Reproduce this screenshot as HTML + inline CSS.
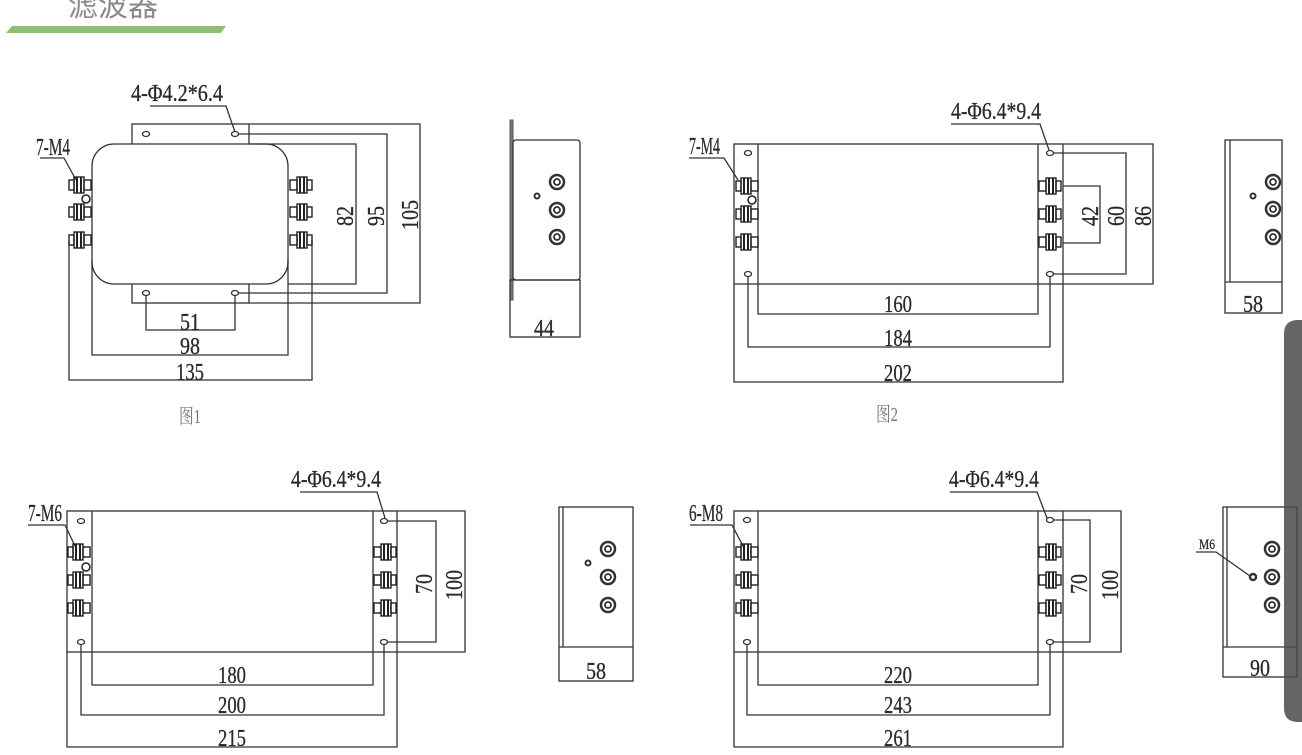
<!DOCTYPE html>
<html><head><meta charset="utf-8"><style>
html,body{margin:0;padding:0;background:#fff;width:1302px;height:755px;overflow:hidden}
svg{display:block}
.t{font-family:"Liberation Serif","Noto Serif CJK SC",serif;fill:#2a2a2a}
</style></head><body>
<svg width="1302" height="755" viewBox="0 0 1302 755" xmlns="http://www.w3.org/2000/svg">
<defs>
<g id="tl" stroke="#222" stroke-width="1.4" fill="none">
<rect x="0" y="-5" width="5" height="10"/>
<rect x="5" y="-8" width="10" height="16"/>
<line x1="8" y1="-8" x2="8" y2="8" stroke-width="2"/>
<line x1="12" y1="-8" x2="12" y2="8" stroke-width="2"/>
<rect x="15" y="-5" width="7" height="10"/>
</g>
<g id="sc"><circle r="7" fill="none" stroke="#333" stroke-width="2.5"/><circle r="3" fill="none" stroke="#333" stroke-width="1.8"/></g>
</defs>
<!-- header -->
<text x="68" y="16" font-size="30" style="fill:#8a8a8a;font-family:'Liberation Sans','Noto Sans CJK SC',sans-serif">滤波器</text>
<polygon points="12,26 226,26 221,33 6,33" fill="#8fbf70"/>

<g stroke="#333" stroke-width="1.3" fill="none">
<!-- FIG 1 -->
<rect x="132" y="124" width="117" height="179"/>
<rect x="92" y="144" width="196" height="140" rx="22" fill="#fff"/>
<ellipse cx="146" cy="134" rx="3.5" ry="2.5"/><ellipse cx="235" cy="134" rx="3.5" ry="2.5"/>
<ellipse cx="146" cy="293" rx="3.5" ry="2.5"/><ellipse cx="235" cy="293" rx="3.5" ry="2.5"/>
<polyline points="249,144 356,144 356,284 288,284"/>
<polyline points="238,134 387,134 387,293 238,293"/>
<polyline points="249,124 420,124 420,303 249,303"/>
<polyline points="146,296 146,330 235,330 235,296"/>
<polyline points="92,260 92,355 288,355 288,260"/>
<polyline points="69,240 69,380 312,380 312,240"/>
<polyline points="150,106 226,106 235,132"/>
<polyline points="40,158 64,158 76,180"/>
<!-- side 1 -->
<rect x="510" y="120" width="3" height="180" fill="#777" stroke="#555" stroke-width="1"/>
<rect x="513" y="140" width="67" height="140" rx="3"/>
<rect x="510" y="280" width="70" height="57"/>
<circle cx="537" cy="196" r="2.5" stroke-width="2"/>

<!-- FIG 2 -->
<rect x="734" y="144" width="329" height="140"/>
<line x1="758" y1="144" x2="758" y2="284"/><line x1="1038" y1="144" x2="1038" y2="284"/>
<ellipse cx="748" cy="153" rx="3.5" ry="2.5"/><ellipse cx="1050" cy="153" rx="3.5" ry="2.5"/>
<ellipse cx="748" cy="274" rx="3.5" ry="2.5"/><ellipse cx="1050" cy="274" rx="3.5" ry="2.5"/>
<polyline points="1063,186 1100,186 1100,243 1063,243"/>
<polyline points="1053,153 1126,153 1126,274 1053,274"/>
<polyline points="1063,144 1153,144 1153,284 1063,284"/>
<polyline points="758,284 758,314 1038,314 1038,284"/>
<polyline points="748,277 748,347 1050,347 1050,277"/>
<polyline points="734,284 734,382 1063,382 1063,284"/>
<polyline points="951,124 1040,124 1049,150"/>
<polyline points="689,158 724,158 738,180"/>
<!-- side 2 -->
<rect x="1225" y="140" width="57" height="173"/>
<line x1="1230" y1="140" x2="1230" y2="282"/><line x1="1225" y1="282" x2="1282" y2="282"/>
<circle cx="1253" cy="196" r="2.5" stroke-width="2"/>

<!-- FIG 3 -->
<rect x="67" y="511" width="330" height="141"/>
<line x1="92" y1="511" x2="92" y2="652"/><line x1="373" y1="511" x2="373" y2="652"/>
<ellipse cx="81" cy="521" rx="3.5" ry="2.5"/><ellipse cx="384" cy="521" rx="3.5" ry="2.5"/>
<ellipse cx="81" cy="642" rx="3.5" ry="2.5"/><ellipse cx="384" cy="642" rx="3.5" ry="2.5"/>
<polyline points="387,521 436,521 436,642 387,642"/>
<polyline points="397,511 465,511 465,652 397,652"/>
<polyline points="92,652 92,685 373,685 373,652"/>
<polyline points="81,645 81,715 384,715 384,645"/>
<polyline points="67,652 67,747 397,747 397,652"/>
<polyline points="300,492 377,492 385,518"/>
<polyline points="28,525 65,525 76,548"/>
<!-- side 3 -->
<rect x="559" y="507" width="74" height="174"/>
<line x1="563" y1="507" x2="563" y2="647"/><line x1="559" y1="647" x2="633" y2="647"/>
<circle cx="588" cy="563" r="2.5" stroke-width="2"/>

<!-- FIG 4 -->
<rect x="734" y="511" width="329" height="141"/>
<line x1="758" y1="511" x2="758" y2="652"/><line x1="1038" y1="511" x2="1038" y2="652"/>
<ellipse cx="747" cy="520" rx="3.5" ry="2.5"/><ellipse cx="1050" cy="520" rx="3.5" ry="2.5"/>
<ellipse cx="747" cy="642" rx="3.5" ry="2.5"/><ellipse cx="1050" cy="642" rx="3.5" ry="2.5"/>
<polyline points="1053,520 1090,520 1090,642 1053,642"/>
<polyline points="1063,511 1121,511 1121,652 1063,652"/>
<polyline points="758,652 758,685 1038,685 1038,652"/>
<polyline points="747,645 747,715 1050,715 1050,645"/>
<polyline points="734,652 734,747 1063,747 1063,652"/>
<polyline points="950,492 1037,492 1047,518"/>
<polyline points="690,525 732,525 744,548"/>
<!-- side 4 -->
<rect x="1223" y="507" width="74" height="170"/>
<line x1="1227" y1="507" x2="1227" y2="647"/><line x1="1223" y1="647" x2="1297" y2="647"/>
<polyline points="1196,552 1216,552 1250,576"/>
<circle cx="1253" cy="577" r="3" stroke-width="2.5"/>
</g>

<!-- terminals -->
<use href="#tl" x="69" y="185"/><use href="#tl" x="69" y="212"/><use href="#tl" x="69" y="240"/>
<circle cx="86" cy="199" r="4" fill="none" stroke="#222" stroke-width="1.5"/>
<g transform="translate(312,0) scale(-1,1)"><use href="#tl" x="0" y="185"/><use href="#tl" x="0" y="212"/><use href="#tl" x="0" y="240"/></g>

<use href="#tl" x="736" y="186"/><use href="#tl" x="736" y="214"/><use href="#tl" x="736" y="242"/>
<circle cx="752" cy="200" r="4" fill="none" stroke="#222" stroke-width="1.5"/>
<g transform="translate(1061,0) scale(-1,1)"><use href="#tl" x="0" y="186"/><use href="#tl" x="0" y="214"/><use href="#tl" x="0" y="242"/></g>

<use href="#tl" x="68" y="552"/><use href="#tl" x="68" y="580"/><use href="#tl" x="68" y="608"/>
<circle cx="86" cy="567" r="4" fill="none" stroke="#222" stroke-width="1.5"/>
<g transform="translate(396,0) scale(-1,1)"><use href="#tl" x="0" y="552"/><use href="#tl" x="0" y="580"/><use href="#tl" x="0" y="608"/></g>

<use href="#tl" x="736" y="552"/><use href="#tl" x="736" y="580"/><use href="#tl" x="736" y="608"/>
<g transform="translate(1061,0) scale(-1,1)"><use href="#tl" x="0" y="552"/><use href="#tl" x="0" y="580"/><use href="#tl" x="0" y="608"/></g>

<!-- side view circles -->
<use href="#sc" x="557" y="182"/><use href="#sc" x="557" y="210"/><use href="#sc" x="557" y="237"/>
<use href="#sc" x="1273" y="182"/><use href="#sc" x="1273" y="209"/><use href="#sc" x="1273" y="237"/>
<use href="#sc" x="608" y="549"/><use href="#sc" x="608" y="577"/><use href="#sc" x="608" y="605"/>
<use href="#sc" x="1272" y="549"/><use href="#sc" x="1272" y="577"/><use href="#sc" x="1272" y="605"/>

<!-- texts -->
<g class="t" font-size="24" stroke="#2a2a2a" stroke-width="0.3">
<text x="131" y="101" textLength="92" lengthAdjust="spacingAndGlyphs">4-Φ4.2*6.4</text>
<text x="36" y="155" textLength="34" lengthAdjust="spacingAndGlyphs">7-M4</text>
<text x="180" y="330" textLength="20" lengthAdjust="spacingAndGlyphs">51</text>
<text x="180" y="354" textLength="20" lengthAdjust="spacingAndGlyphs">98</text>
<text x="176" y="380" textLength="28" lengthAdjust="spacingAndGlyphs">135</text>
<text transform="translate(353,226) rotate(-90)" textLength="20" lengthAdjust="spacingAndGlyphs">82</text>
<text transform="translate(384,226) rotate(-90)" textLength="20" lengthAdjust="spacingAndGlyphs">95</text>
<text transform="translate(418,230) rotate(-90)" textLength="30" lengthAdjust="spacingAndGlyphs">105</text>
<text x="534" y="336" textLength="20" lengthAdjust="spacingAndGlyphs">44</text>

<text x="951" y="119" textLength="90" lengthAdjust="spacingAndGlyphs">4-Φ6.4*9.4</text>
<text x="689" y="154" textLength="31" lengthAdjust="spacingAndGlyphs">7-M4</text>
<text x="884" y="312" textLength="28" lengthAdjust="spacingAndGlyphs">160</text>
<text x="884" y="346" textLength="28" lengthAdjust="spacingAndGlyphs">184</text>
<text x="884" y="381" textLength="28" lengthAdjust="spacingAndGlyphs">202</text>
<text transform="translate(1098,226) rotate(-90)" textLength="20" lengthAdjust="spacingAndGlyphs">42</text>
<text transform="translate(1124,226) rotate(-90)" textLength="20" lengthAdjust="spacingAndGlyphs">60</text>
<text transform="translate(1151,226) rotate(-90)" textLength="20" lengthAdjust="spacingAndGlyphs">86</text>
<text x="1243" y="312" textLength="20" lengthAdjust="spacingAndGlyphs">58</text>

<text x="291" y="487" textLength="90" lengthAdjust="spacingAndGlyphs">4-Φ6.4*9.4</text>
<text x="28" y="521" textLength="34" lengthAdjust="spacingAndGlyphs">7-M6</text>
<text x="218" y="683" textLength="28" lengthAdjust="spacingAndGlyphs">180</text>
<text x="218" y="713" textLength="28" lengthAdjust="spacingAndGlyphs">200</text>
<text x="218" y="746" textLength="28" lengthAdjust="spacingAndGlyphs">215</text>
<text transform="translate(432,594) rotate(-90)" textLength="20" lengthAdjust="spacingAndGlyphs">70</text>
<text transform="translate(462,600) rotate(-90)" textLength="30" lengthAdjust="spacingAndGlyphs">100</text>
<text x="586" y="679" textLength="20" lengthAdjust="spacingAndGlyphs">58</text>

<text x="949" y="487" textLength="90" lengthAdjust="spacingAndGlyphs">4-Φ6.4*9.4</text>
<text x="689" y="521" textLength="34" lengthAdjust="spacingAndGlyphs">6-M8</text>
<text x="884" y="683" textLength="28" lengthAdjust="spacingAndGlyphs">220</text>
<text x="884" y="713" textLength="28" lengthAdjust="spacingAndGlyphs">243</text>
<text x="884" y="746" textLength="28" lengthAdjust="spacingAndGlyphs">261</text>
<text transform="translate(1087,594) rotate(-90)" textLength="20" lengthAdjust="spacingAndGlyphs">70</text>
<text transform="translate(1118,600) rotate(-90)" textLength="30" lengthAdjust="spacingAndGlyphs">100</text>
<text x="1199" y="549" font-size="15" textLength="16" lengthAdjust="spacingAndGlyphs">M6</text>
<text x="1250" y="676" textLength="20" lengthAdjust="spacingAndGlyphs">90</text>
</g>
<g class="t" font-size="20">
<text x="179" y="423" textLength="22" lengthAdjust="spacingAndGlyphs" style="fill:#777">图1</text>
<text x="876" y="421" textLength="22" lengthAdjust="spacingAndGlyphs" style="fill:#777">图2</text>
</g>

<!-- side dark tab -->
<path d="M1302,320 L1298,320 Q1284,320 1284,334 L1284,708 Q1284,722 1298,722 L1302,722 Z" fill="#4a4a4a" fill-opacity="0.85"/>
</svg>
</body></html>
